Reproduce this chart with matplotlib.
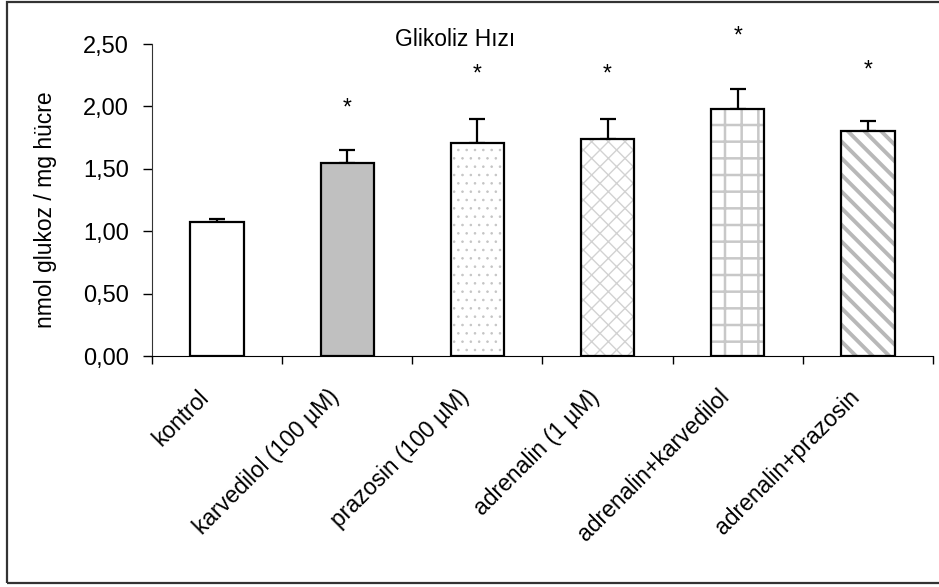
import matplotlib
matplotlib.use("Agg")
import matplotlib.pyplot as plt
from matplotlib.patches import Rectangle
from matplotlib.transforms import ScaledTranslation

plt.rcParams["font.family"] = ["Liberation Sans", "DejaVu Sans"]

# gruplar ve ölçülen glikoliz hızları
gruplar = ["kontrol", "karvedilol (100 µM)", "prazosin (100 µM)",
           "adrenalin (1 µM)", "adrenalin+karvedilol", "adrenalin+prazosin"]
ortalama = [1.07, 1.55, 1.71, 1.74, 1.98, 1.80]
hata = [0.03, 0.10, 0.19, 0.16, 0.16, 0.08]
# anlamlılık yıldızlarının yükseklikleri (kontrolde yok)
yildiz_y = [None, 1.99, 2.26, 2.26, 2.56, 2.29]

dolgu = ["white", "#c0c0c0", "white", "white", "white", "white"]
desen = [None, None, "..", "xx", "+", "\\\\"]
desen_renk = ["white", "#c0c0c0", "#c4c4c4", "#d2d2d2", "#c8c8c8", "#b8b8b8"]
desen_kalinlik = [1, 1, 0.6, 1.0, 1.8, 2.8]

fs = 16.5

fig = plt.figure(figsize=(9.39, 5.87), dpi=100)
ax = fig.add_axes([152 / 939, 1 - 356 / 587, 781 / 939, 312 / 587])

x = [i + 0.5 for i in range(len(gruplar))]
w = 0.41

for i in range(len(gruplar)):
    # önce desen, sonra siyah çerçeve
    b = ax.bar(x[i], ortalama[i], width=w, color=dolgu[i],
               edgecolor=desen_renk[i], hatch=desen[i], linewidth=0, zorder=2)
    if hasattr(b[0], "set_hatch_linewidth"):
        b[0].set_hatch_linewidth(desen_kalinlik[i])
    ax.bar(x[i], ortalama[i], width=w, fill=False, edgecolor="black",
           linewidth=1.6, zorder=3)

ax.errorbar(x, ortalama, yerr=[[0] * len(hata), hata], fmt="none",
            ecolor="black", elinewidth=1.6, capsize=6, capthick=1.6, zorder=1)

for xi, yy in zip(x, yildiz_y):
    if yy is not None:
        ax.text(xi, yy, "*", ha="center", va="center", fontsize=fs, clip_on=False)

ax.text(0.388, 1.013, "Glikoliz Hızı", transform=ax.transAxes,
        ha="center", va="center", fontsize=fs)

ax.set_xlim(0, len(gruplar))
ax.set_ylim(0, 2.5)
ax.set_yticks([0, 0.5, 1.0, 1.5, 2.0, 2.5])
ax.set_yticklabels([f"{v:.2f}".replace(".", ",") for v in ax.get_yticks()],
                   fontsize=17)
ax.tick_params(axis="y", length=6.5, width=1, pad=10)

# kategori sınırlarında çentik, etiketler çubuk ortalarında
ax.set_xticks(range(len(gruplar) + 1))
ax.set_xticklabels([])
ax.tick_params(axis="x", which="major", length=6, width=1)
ax.set_xticks(x, minor=True)
ax.set_xticklabels(gruplar, minor=True, rotation=45, ha="right", va="center",
                   rotation_mode="anchor", fontsize=fs)
ax.tick_params(axis="x", which="minor", length=0, pad=27)
for lbl in ax.get_xticklabels(minor=True):
    lbl.set_transform(lbl.get_transform() + ScaledTranslation(-0.12, 0, fig.dpi_scale_trans))

ax.set_ylabel("nmol glukoz / mg hücre", fontsize=fs)
ax.yaxis.set_label_coords(-0.122, 0.468)

ax.spines["top"].set_visible(False)
ax.spines["right"].set_visible(False)
ax.spines["left"].set_color("#333333")

# dış çerçeve
fig.patches.append(Rectangle((7 / 939, 1 - 583 / 587), 940 / 939, 581 / 587,
                             transform=fig.transFigure, fill=False,
                             edgecolor="#333333", linewidth=1.6))

fig.savefig("out.png", dpi=100)
